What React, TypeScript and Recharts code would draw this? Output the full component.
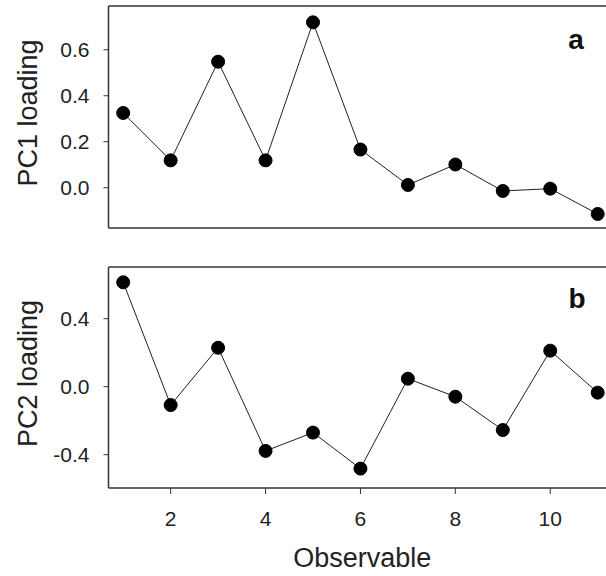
import React from 'react';
import { LineChart, Line, XAxis, YAxis, ReferenceLine } from 'recharts';

// loadings, observable 1..11
const observables = [1, 2, 3, 4, 5, 6, 7, 8, 9, 10, 11];
const pc1Loading = [0.325, 0.119, 0.548, 0.119, 0.719, 0.166, 0.012, 0.101, -0.014, -0.004, -0.114];
const pc2Loading = [0.614, -0.108, 0.229, -0.378, -0.27, -0.482, 0.047, -0.059, -0.255, 0.212, -0.035];

const xTicks = [2, 4, 6, 8, 10];
const pc1Ticks = [0, 0.2, 0.4, 0.6];
const pc2Ticks = [-0.4, 0, 0.4];

const xDomain = [0.69, 11.175];
const pc1Domain = [-0.175, 0.79];
const pc2Domain = [-0.596, 0.704];

const FONT = '"Liberation Sans", Arial, sans-serif';
const AXIS = '#333';
const TEXT = '#222';

const data = observables.map((x, i) => ({ x, pc1: pc1Loading[i], pc2: pc2Loading[i] }));

const axisLine = { stroke: AXIS, strokeWidth: 1.5 };
const tickLine = { stroke: AXIS, strokeWidth: 1 };

// rotated y title, baseline sits at x=37
const yTitle = (text: string) => (props: any) => {
  const vb = props.viewBox || {};
  const cx = 37;
  const cy = vb.y + vb.height / 2 - 4;
  return (
    <text
      x={cx}
      y={cy}
      transform={`rotate(-90 ${cx} ${cy})`}
      textAnchor="middle"
      fontSize={27}
      fontFamily={FONT}
      fill={TEXT}
    >
      {text}
    </text>
  );
};

const dot = { r: 6.5, fill: '#000', stroke: '#000', strokeWidth: 1 };

export default function App() {
  return (
    <div
      style={{
        position: 'absolute',
        left: 0,
        top: 0,
        width: 606,
        height: 576,
        background: '#fff',
        overflow: 'hidden',
        fontFamily: FONT,
      }}
    >
      {/* Panel a */}
      <LineChart width={606} height={240} data={data} margin={{ top: 6, right: 0, bottom: 0, left: 0 }}>
        <XAxis
          dataKey="x"
          type="number"
          domain={xDomain}
          ticks={xTicks}
          tick={false}
          tickSize={6}
          height={12}
          axisLine={axisLine}
          tickLine={tickLine}
        />
        <YAxis
          type="number"
          domain={pc1Domain}
          ticks={pc1Ticks}
          width={108.5}
          tickSize={5}
          tickMargin={14}
          axisLine={axisLine}
          tickLine={tickLine}
          tickFormatter={(v: number) => v.toFixed(1)}
          tick={{ fontSize: 21, fill: TEXT, fontFamily: FONT }}
          label={{ content: yTitle('PC1 loading') }}
        />
        {/* frame top */}
        <ReferenceLine y={pc1Domain[1]} stroke={AXIS} strokeWidth={1.5} />
        <Line
          dataKey="pc1"
          stroke="#222"
          strokeWidth={1}
          dot={dot}
          activeDot={false}
          isAnimationActive={false}
        />
        <text x={576} y={49} textAnchor="middle" fontSize={28} fontWeight="bold" fontFamily={FONT} fill="#111">
          a
        </text>
      </LineChart>

      {/* Panel b */}
      <LineChart width={606} height={336} data={data} margin={{ top: 27, right: 0, bottom: 0, left: 0 }}>
        <XAxis
          dataKey="x"
          type="number"
          domain={xDomain}
          ticks={xTicks}
          tickSize={6}
          tickMargin={17}
          height={88}
          axisLine={axisLine}
          tickLine={tickLine}
          tick={{ fontSize: 21, fill: TEXT, fontFamily: FONT }}
          label={{
            value: 'Observable',
            position: 'insideBottom',
            offset: 9,
            dx: 5,
            fontSize: 27,
            fill: TEXT,
            fontFamily: FONT,
          }}
        />
        <YAxis
          type="number"
          domain={pc2Domain}
          ticks={pc2Ticks}
          width={108.5}
          tickSize={5}
          tickMargin={14}
          axisLine={axisLine}
          tickLine={tickLine}
          tickFormatter={(v: number) => v.toFixed(1)}
          tick={{ fontSize: 21, fill: TEXT, fontFamily: FONT }}
          label={{ content: yTitle('PC2 loading') }}
        />
        <ReferenceLine y={pc2Domain[1]} stroke={AXIS} strokeWidth={1.5} />
        <Line
          dataKey="pc2"
          stroke="#222"
          strokeWidth={1}
          dot={dot}
          activeDot={false}
          isAnimationActive={false}
        />
        <text x={577} y={68} textAnchor="middle" fontSize={28} fontWeight="bold" fontFamily={FONT} fill="#111">
          b
        </text>
      </LineChart>
    </div>
  );
}
